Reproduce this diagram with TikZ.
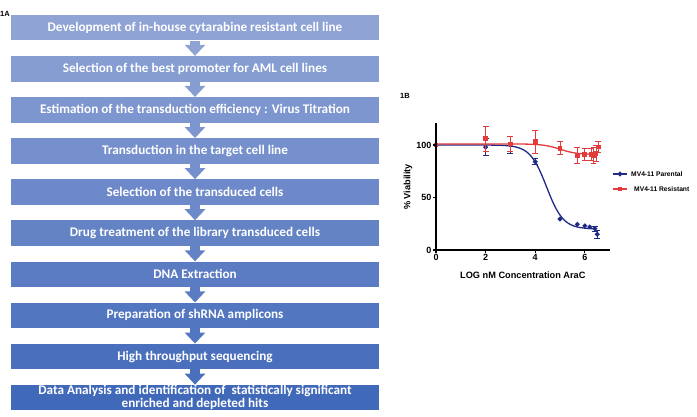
\documentclass[tikz,border=0pt]{standalone}
\usepackage{fontspec}
\setmainfont{Carlito}
\newfontfamily\plotfont{Liberation Sans}
\usepackage{xcolor}
\usepackage{tikz}
\usetikzlibrary{arrows.meta, positioning, calc}

\definecolor{boxlight}{HTML}{8FA3D5}
\definecolor{boxdark}{HTML}{4169B9}
\definecolor{parental}{HTML}{1F2A86}
\definecolor{resistant}{HTML}{E23B3B}

\begin{document}
\begin{tikzpicture}[
  x = 1pt, y = 1pt,
  node distance = 15.2pt,
  box/.style = {rectangle, fill=boxdark!#1!boxlight, text=white,
                font=\bfseries\fontsize{13.2}{13.2}\selectfont,
                minimum width=368pt, minimum height=25.5pt,
                inner sep=0pt, align=center},
  flow/.style = {draw=boxdark!#1!boxlight, line width=10pt,
                 -{Triangle[width=20pt, length=11pt]}},
  panel/.style = {font=\plotfont\bfseries\fontsize{7.5}{8}\selectfont,
                  inner sep=0pt},
  legend/.style = {font=\plotfont\bfseries\fontsize{6.7}{7}\selectfont,
                   inner sep=0pt, anchor=west},
  errbar/.style = {line width=0.9pt},
  axislabel/.style = {font=\plotfont\bfseries\fontsize{9.2}{10}\selectfont},
]
\useasboundingbox (0,0) rectangle (697,417);

% panel A: screening workflow
\node[panel, anchor=north west] (labA) at (0,405.5) {1A};

\node[box=0] (devel) at (195,389.3) {Development of in-house cytarabine resistant cell line};
\node[box=11, below=of devel] (promo) {Selection of the best promoter for AML cell lines};
\node[box=22, below=of promo] (titre) {Estimation of the transduction efficiency : Virus Titration};
\node[box=33, below=of titre] (trans) {Transduction in the target cell line};
\node[box=44, below=of trans] (selec) {Selection of the transduced cells};
\node[box=56, below=of selec] (drug) {Drug treatment of the library transduced cells};
\node[box=67, below=of drug] (dna) {DNA Extraction};
\node[box=78, below=of dna] (ampli) {Preparation of shRNA amplicons};
\node[box=89, below=of ampli] (seq) {High throughput sequencing};
\node[box=100, below=of seq] (hits) {Data Analysis and identification of~ statistically significant\\enriched and depleted hits};

\draw[flow=0] (devel) -- (promo);
\draw[flow=11] (promo) -- (titre);
\draw[flow=22] (titre) -- (trans);
\draw[flow=33] (trans) -- (selec);
\draw[flow=44] (selec) -- (drug);
\draw[flow=56] (drug) -- (dna);
\draw[flow=67] (dna) -- (ampli);
\draw[flow=78] (ampli) -- (seq);
\draw[flow=89] (seq) -- (hits);

% panel B: dose response
\node[panel, anchor=north west] (labB) at (400,323.5) {1B};

\begin{scope}[shift={(436,167)}, x=24.8pt, y=1.05pt,
              font=\plotfont\bfseries\fontsize{9}{10}\selectfont]
  % curves
  \draw[parental, line width=1.3pt] plot[domain=0:6.5, samples=80, smooth]
    (\x, {20+80/(1+10^((\x-4.46)*1.3))});
  \foreach \px/\py/\pe in {2/98/8, 3/100/8, 4/84/3, 6.4/20/2, 6.5/15/4}{
    \draw[parental, errbar] (\px,\py-\pe) -- (\px,\py+\pe);
    \draw[parental, errbar] (\px-0.12,\py-\pe) -- (\px+0.12,\py-\pe);
    \draw[parental, errbar] (\px-0.12,\py+\pe) -- (\px+0.12,\py+\pe);
  }
  \foreach \px/\py in {0/100, 2/98, 3/100, 4/84, 5/29.5, 5.7/24.5, 6/23, 6.2/22, 6.4/20.5, 6.5/15}
    \fill[parental] (\px,\py) +(0,2.6pt) -- +(2.6pt,0) -- +(0,-2.6pt) -- +(-2.6pt,0) -- cycle;

  \draw[resistant, line width=1.3pt] plot[domain=0:6.5, samples=80, smooth]
    (\x, {91+10/(1+10^((\x-5)*1.3))});
  \foreach \px/\py/\pe in {2/106/12, 3/101/7, 4/103/11, 5/97/6, 5.7/90/8, 6/91/6,
                           6.25/91/6, 6.35/90/8, 6.45/92/8, 6.55/98/5}{
    \draw[resistant, errbar] (\px,\py-\pe) -- (\px,\py+\pe);
    \draw[resistant, errbar] (\px-0.12,\py-\pe) -- (\px+0.12,\py-\pe);
    \draw[resistant, errbar] (\px-0.12,\py+\pe) -- (\px+0.12,\py+\pe);
  }
  \foreach \px/\py in {0/100, 2/106, 3/101, 4/103, 5/97, 5.7/90, 6/91, 6.25/91, 6.35/90, 6.45/92, 6.55/98}
    \fill[resistant] (\px,\py) +(-2.4pt,-2.4pt) rectangle +(2.4pt,2.4pt);

  % axes
  \draw[line width=1.1pt] (0,121) -- (0,0) -- (7,0);
  \foreach \t in {0,2,4,6}
    \draw[line width=1.1pt] (\t,0) -- ++(0,-3pt) node[below=1pt, inner sep=0pt] {\t};
  \foreach \v in {0,50,100}
    \draw[line width=1.1pt] (0,\v) -- ++(-3pt,0) node[left=1pt, inner sep=0pt] {\v};
  \node[axislabel] (xlab) at (3.5,-24) {LOG nM Concentration AraC};
  \node[axislabel, rotate=90] (ylab) at (-1.13,60) {\% Viability};
\end{scope}

% legend
\draw[parental, line width=1.2pt] (613,243) -- (627,243);
\fill[parental] (620,243) +(0,2.6) -- +(2.6,0) -- +(0,-2.6) -- +(-2.6,0) -- cycle;
\node[legend] (legpar) at (631,243) {MV4-11 Parental};
\draw[resistant, line width=1.2pt] (613,228) -- (627,228);
\fill[resistant] (620,228) +(-2.4,-2.4) rectangle +(2.4,2.4);
\node[legend] (legres) at (634,228) {MV4-11 Resistant};
\end{tikzpicture}
\end{document}
